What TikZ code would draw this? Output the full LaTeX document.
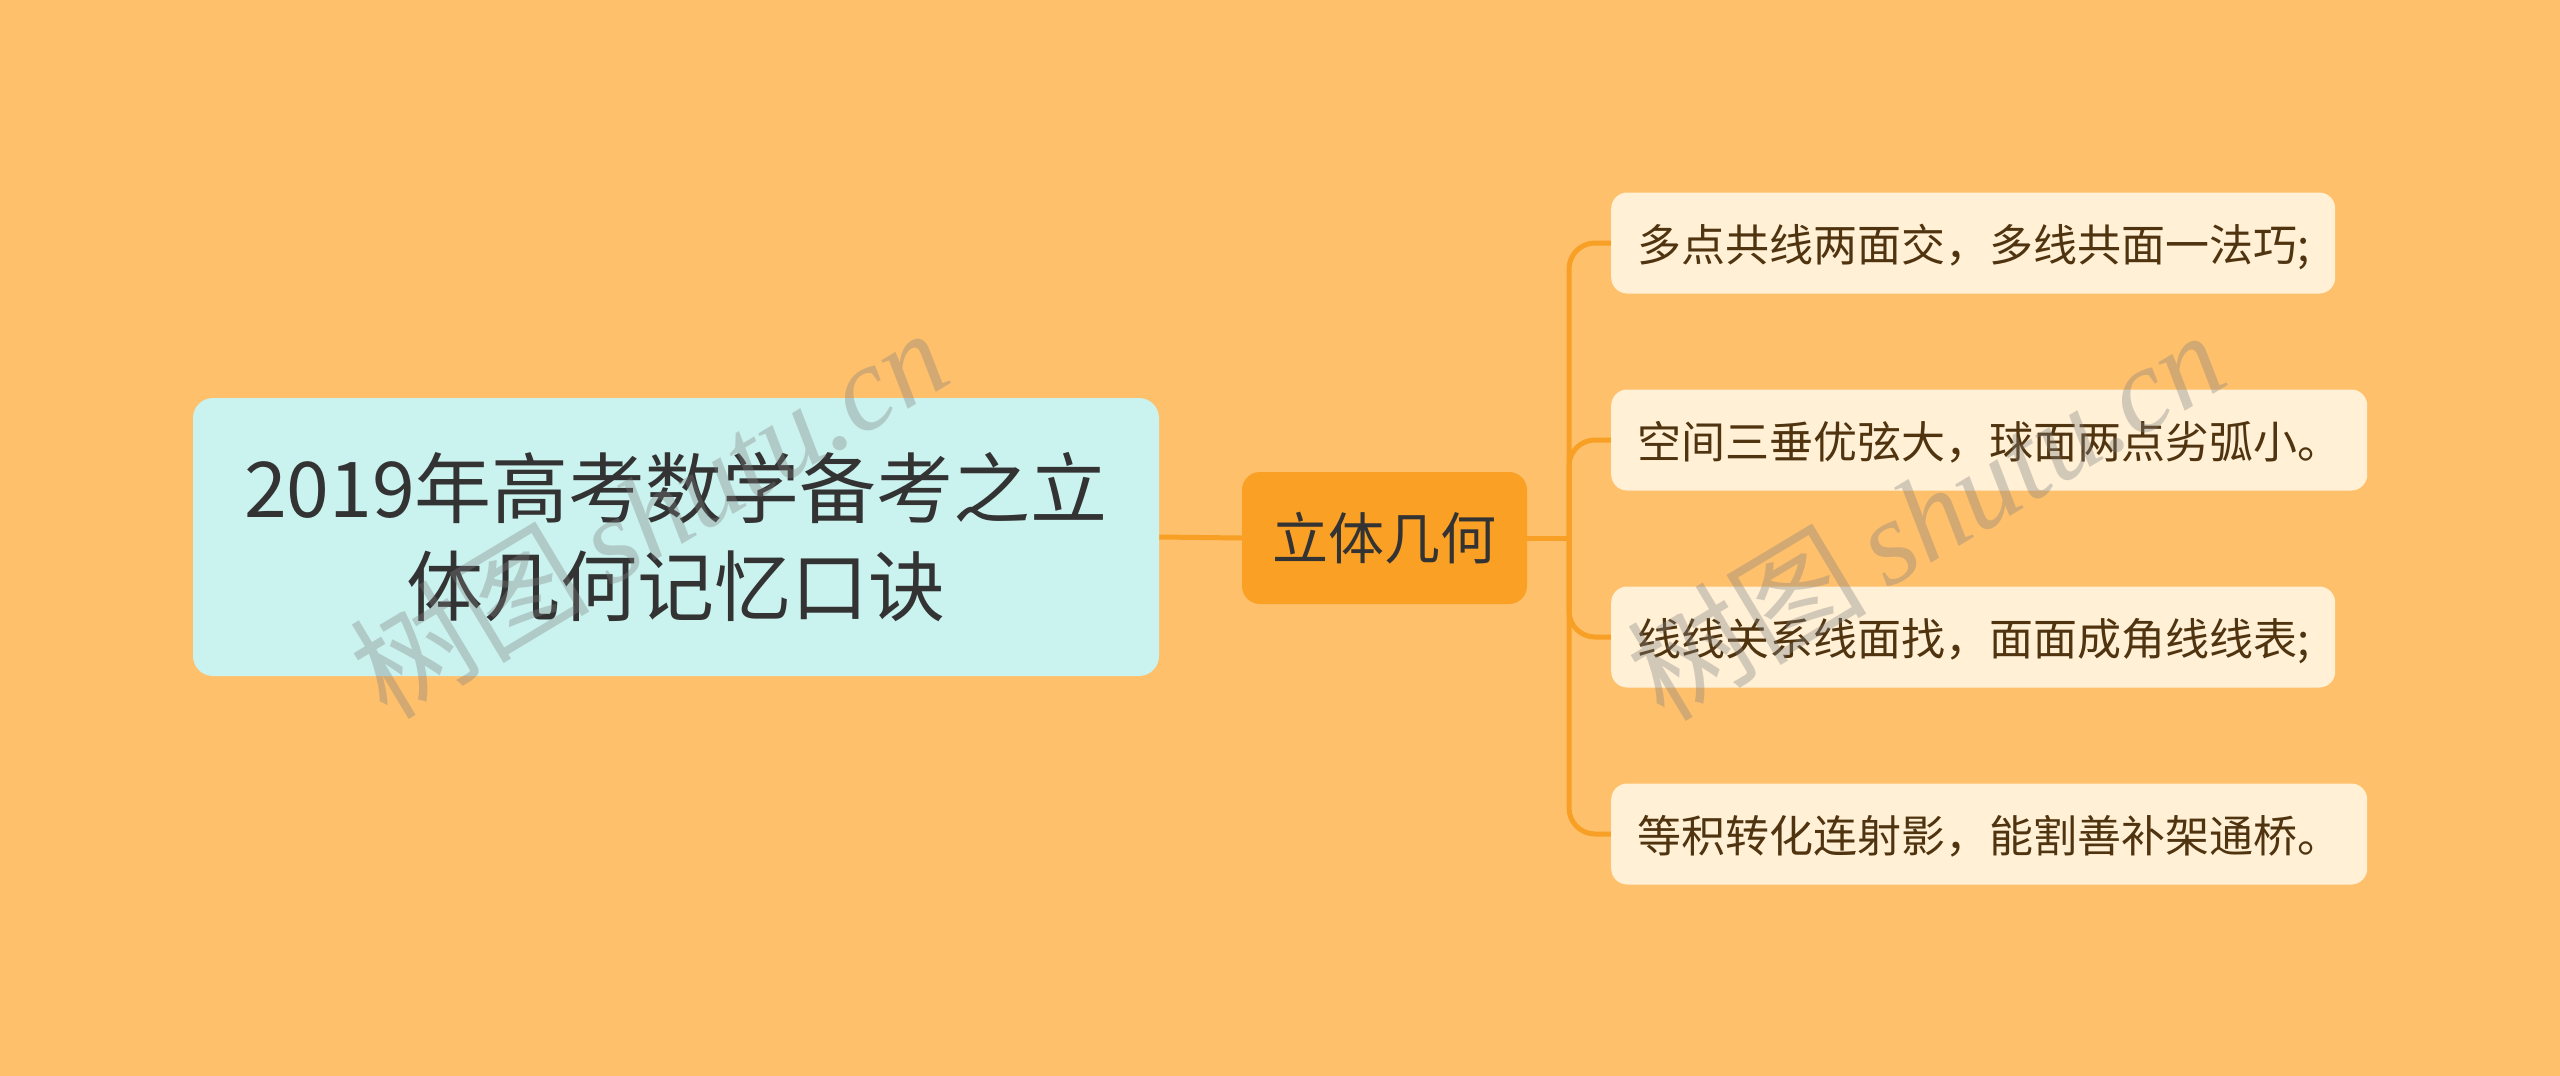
\documentclass[tikz,border=0pt]{standalone}
\usepackage{fontspec}
\setmainfont{Noto Sans CJK SC}
\newfontfamily\wmfont{Liberation Serif}
\newfontfamily\wmcjk{Noto Sans CJK SC}
\definecolor{bgc}{RGB}{255,192,107}
\definecolor{rootfill}{RGB}{202,242,238}
\definecolor{midfill}{RGB}{250,160,36}
\definecolor{leaffill}{RGB}{255,240,214}
\definecolor{linec}{RGB}{248,160,38}
\definecolor{roottext}{RGB}{51,51,51}
\definecolor{leaftext}{RGB}{80,52,16}
\pgfdeclarelayer{background}
\pgfdeclarelayer{backmost}
\pgfsetlayers{backmost,background,main}
\begin{document}
\begin{tikzpicture}[x=1pt,y=-1pt,
  rootbox/.style={fill=rootfill, rounded corners=20pt, minimum width=966pt, minimum height=278pt, align=center, text=roottext, font=\fontsize{77}{98}\selectfont, inner sep=0pt},
  midbox/.style={fill=midfill, rounded corners=18pt, minimum width=285pt, minimum height=132pt, text=roottext, font=\fontsize{56}{64}\selectfont, inner sep=0pt},
  leafbox/.style={fill=leaffill, rounded corners=16pt, minimum height=101pt, text=leaftext, font=\fontsize{44}{50}\selectfont, anchor=west, inner xsep=20pt, inner ysep=0pt, text depth=0pt},
  conn/.style={draw=linec, line width=5pt, rounded corners=26pt},
  wm/.style={text=gray, opacity=0.35, rotate=31, font=\fontsize{120}{130}\selectfont}
]
\begin{pgfonlayer}{backmost}
\fill[bgc] (0,0) rectangle (2560,1076);
\end{pgfonlayer}
\useasboundingbox (0,0) rectangle (2560,1076);

\node[rootbox] (root) at (676,537) {2019年高考数学备考之立\\体几何记忆口诀};
\node[midbox] (mid) at (1384.5,538) {立体几何};

\node[leafbox, minimum width=724pt] (l1) at (1611,243) {多点共线两面交，多线共面一法巧;};
\node[leafbox, minimum width=756pt] (l2) at (1611,440) {空间三垂优弦大，球面两点劣弧小。};
\node[leafbox, minimum width=724pt] (l3) at (1611,637) {线线关系线面找，面面成角线线表;};
\node[leafbox, minimum width=756pt] (l4) at (1611,834) {等积转化连射影，能割善补架通桥。};

\coordinate (trunk) at (1569,538);
\begin{pgfonlayer}{background}
\draw[conn] (root.east) -- (mid.west);
\draw[conn] (mid.east) -- (trunk);
\draw[conn] (trunk) |- (l1.west);
\draw[conn] (trunk) |- (l2.west);
\draw[conn] (trunk) |- (l3.west);
\draw[conn] (trunk) |- (l4.west);
\end{pgfonlayer}

\node[wm] (wm1) at (648,512) {\wmcjk 树图\,\wmfont\itshape shutu.cn};
\node[wm] (wm2) at (1925,514) {\wmcjk 树图\,\wmfont\itshape shutu.cn};
\end{tikzpicture}
\end{document}
